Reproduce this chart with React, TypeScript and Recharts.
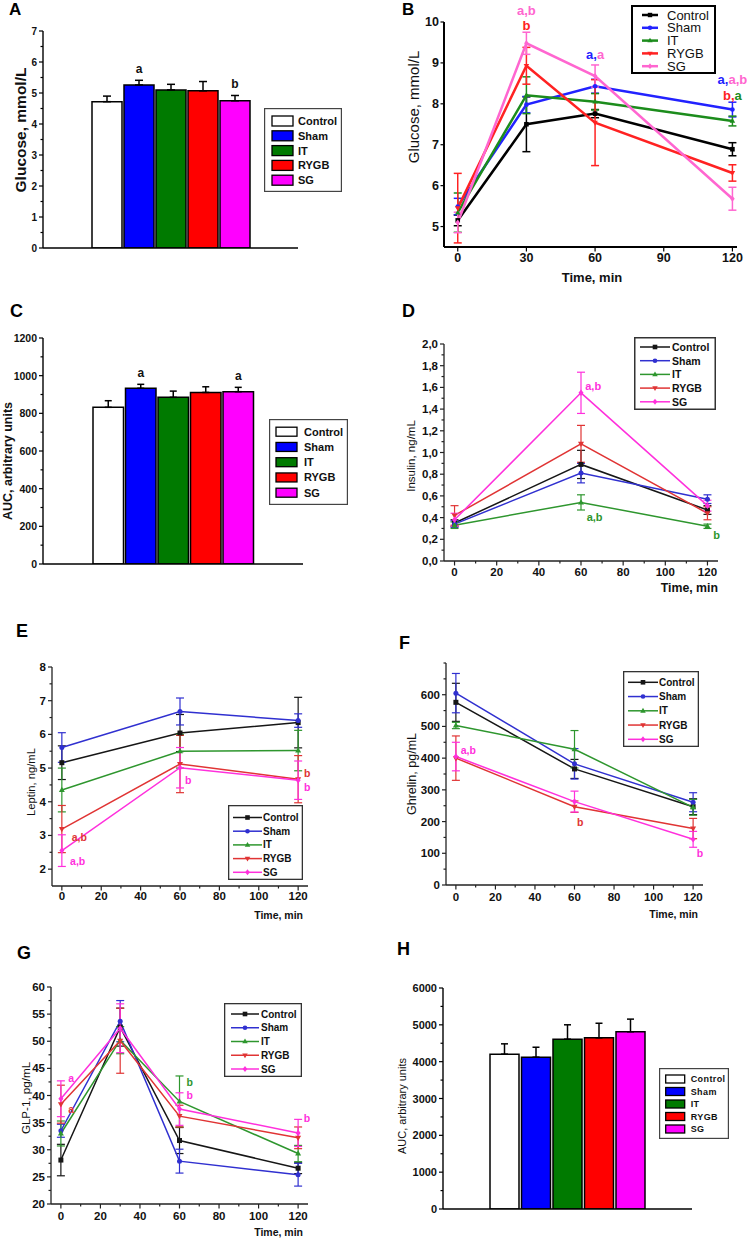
import React from 'react';
import {
  BarChart,
  Bar,
  LineChart,
  Line,
  XAxis,
  YAxis,
  ErrorBar,
  Legend,
  LabelList,
  ReferenceDot,
} from 'recharts';

const FONT = '"Liberation Sans", Arial, Helvetica, sans-serif';

const groups = ['Control', 'Sham', 'IT', 'RYGB', 'SG'];

const barFills = ['#ffffff', '#0000ff', '#007a00', '#ff0000', '#ff00ff'];
const ogttColors = ['#000000', '#2222ff', '#1c8c1c', '#ff2222', '#ff66d0'];
const lineColors = ['#161616', '#3030d0', '#2e962e', '#e03434', '#ff30dc'];
const markerShapes = ['square', 'circle', 'triangle', 'triangleDown', 'diamond'];

// A: fasting glucose, mmol/L
const fastingGlucose = [4.72, 5.26, 5.1, 5.07, 4.75];
const fastingGlucoseSem = [0.18, 0.15, 0.18, 0.3, 0.17];
const fastingGlucoseSig = ['', 'a', '', '', 'b'];
const glucoseTicks = [0, 1, 2, 3, 4, 5, 6, 7];
const glucoseMinorTicks = [0.5, 1.5, 2.5, 3.5, 4.5, 5.5, 6.5];

// B: glucose tolerance curve, mmol/L
const ogttTimes = [0, 30, 60, 120];
const ogttGlucose = [
  [5.15, 7.5, 7.76, 6.89],
  [5.49, 7.98, 8.43, 7.86],
  [5.34, 8.21, 8.05, 7.58],
  [5.45, 8.93, 7.54, 6.31],
  [5.1, 9.48, 8.68, 5.68],
];
const ogttGlucoseSem = [
  [0.13, 0.67, 0.1, 0.16],
  [0.2, 0.2, 0.17, 0.18],
  [0.48, 0.45, 0.2, 0.12],
  [0.85, 0.45, 1.05, 0.2],
  [0.25, 0.27, 0.27, 0.28],
];
const ogttTimeTicks = [0, 30, 60, 90, 120];
const ogttGlucoseTicks = [5, 6, 7, 8, 9, 10];
const ogttNotes = [
  { x: 30, y: 10.3, parts: [['a,b', 4]] },
  { x: 30, y: 9.92, parts: [['b', 3]] },
  { x: 60, y: 9.21, parts: [['a,', 1], ['a', 4]] },
  { x: 120, y: 8.6, parts: [['a,', 1], ['a,b', 4]] },
  { x: 120, y: 8.22, parts: [['b,', 3], ['a', 2]] },
];

// C: glucose AUC
const glucoseAuc = [832, 933, 885, 911, 915];
const glucoseAucSem = [35, 21, 33, 30, 23];
const glucoseAucSig = ['', 'a', '', '', 'a'];
const glucoseAucTicks = [0, 200, 400, 600, 800, 1000, 1200];
const glucoseAucMinorTicks = [100, 300, 500, 700, 900, 1100];

// shared time axis for D-G
const timeTicks = [0, 20, 40, 60, 80, 100, 120];
const timeMinorTicks = [10, 30, 50, 70, 90, 110];

// D: insulin, ng/mL
const hormoneTimes = [0, 60, 120];
const insulin = [
  [0.35, 0.89, 0.47],
  [0.34, 0.81, 0.57],
  [0.33, 0.54, 0.32],
  [0.42, 1.08, 0.44],
  [0.38, 1.55, 0.51],
];
const insulinSem = [
  [0.03, 0.13, 0.04],
  [0.03, 0.09, 0.04],
  [0.03, 0.07, 0.02],
  [0.09, 0.17, 0.06],
  [0.06, 0.19, 0.05],
];
const insulinTicks = [0, 0.2, 0.4, 0.6, 0.8, 1.0, 1.2, 1.4, 1.6, 1.8, 2.0];
const insulinMinorTicks = [0.1, 0.3, 0.5, 0.7, 0.9, 1.1, 1.3, 1.5, 1.7, 1.9];
const insulinNotes = [
  { x: 62, y: 1.61, parts: [['a,b', 4]] },
  { x: 62.7, y: 0.41, parts: [['a,b', 2]] },
  { x: 122.8, y: 0.24, parts: [['b', 2]] },
];

// E: leptin, ng/mL
const leptin = [
  [5.16, 6.04, 6.35],
  [5.61, 6.68, 6.41],
  [4.35, 5.5, 5.52],
  [3.19, 5.12, 4.67],
  [2.55, 5.01, 4.64],
];
const leptinSem = [
  [0.5, 0.55, 0.75],
  [0.44, 0.4, 0.2],
  [0.65, 0.5, 0.6],
  [0.7, 0.85, 0.7],
  [0.47, 0.6, 0.57],
];
const leptinTicks = [2, 3, 4, 5, 6, 7, 8];
const leptinMinorTicks = [2.5, 3.5, 4.5, 5.5, 6.5, 7.5];
const leptinNotes = [
  { x: 5, y: 2.96, parts: [['a,b', 3]] },
  { x: 4.2, y: 2.24, parts: [['a,b', 4]] },
  { x: 62.6, y: 4.66, parts: [['b', 4]] },
  { x: 123, y: 4.84, parts: [['b', 3]] },
  { x: 123, y: 4.43, parts: [['b', 4]] },
];

// F: ghrelin, pg/mL
const ghrelin = [
  [576, 366, 247],
  [605, 382, 261],
  [503, 428, 245],
  [400, 247, 178],
  [405, 263, 144],
];
const ghrelinSem = [
  [60, 30, 25],
  [62, 48, 30],
  [10, 59, 25],
  [70, 18, 32],
  [45, 33, 25],
];
const ghrelinTicks = [0, 100, 200, 300, 400, 500, 600];
const ghrelinMinorTicks = [50, 150, 250, 350, 450, 550, 650, 700];
const ghrelinNotes = [
  { x: 2.4, y: 426, parts: [['a,b', 4]] },
  { x: 61.3, y: 200, parts: [['b', 3]] },
  { x: 121.9, y: 100, parts: [['b', 4]] },
];

// G: GLP-1, pg/mL
const glp1Times = [0, 30, 60, 120];
const glp1 = [
  [28.1, 52.6, 31.7, 26.6],
  [33.5, 53.7, 27.9, 25.4],
  [33.0, 50.2, 38.9, 29.3],
  [38.4, 50.1, 36.2, 32.2],
  [39.4, 52.4, 37.5, 33.1],
];
const glp1Sem = [
  [2.9, 3.5, 2.4, 1.0],
  [1.2, 3.8, 2.2, 2.1],
  [2.3, 2.5, 4.7, 1.5],
  [3.5, 6.0, 2.0, 2.0],
  [3.3, 4.5, 3.0, 2.5],
];
const glp1Ticks = [20, 25, 30, 35, 40, 45, 50, 55, 60];
const glp1MinorTicks = [22.5, 27.5, 32.5, 37.5, 42.5, 47.5, 52.5, 57.5];
const glp1Notes = [
  { x: 3.7, y: 43.2, parts: [['a', 4]] },
  { x: 3.7, y: 37.6, parts: [['a', 3]] },
  { x: 63.6, y: 42.4, parts: [['b', 2]] },
  { x: 63.6, y: 40.1, parts: [['b', 4]] },
  { x: 122.8, y: 35.8, parts: [['b', 4]] },
];

// H: GLP-1 AUC
const glp1Auc = [4204, 4122, 4611, 4647, 4812];
const glp1AucSem = [280, 270, 390, 396, 343];
const glp1AucTicks = [0, 1000, 2000, 3000, 4000, 5000, 6000];
const glp1AucMinorTicks = [500, 1500, 2500, 3500, 4500, 5500];

function Marker({ shape, cx, cy, color, size }: any) {
  const s = size;
  if (shape === 'square') {
    return <rect x={cx - s} y={cy - s} width={2 * s} height={2 * s} fill={color} />;
  }
  if (shape === 'circle') return <circle cx={cx} cy={cy} r={s} fill={color} />;
  if (shape === 'triangle') {
    return (
      <polygon
        points={`${cx},${cy - s * 1.3} ${cx - s * 1.2},${cy + s * 0.8} ${cx + s * 1.2},${cy + s * 0.8}`}
        fill={color}
      />
    );
  }
  if (shape === 'triangleDown') {
    return (
      <polygon
        points={`${cx},${cy + s * 1.3} ${cx - s * 1.2},${cy - s * 0.8} ${cx + s * 1.2},${cy - s * 0.8}`}
        fill={color}
      />
    );
  }
  return (
    <polygon
      points={`${cx},${cy - s * 1.3} ${cx + s},${cy} ${cx},${cy + s * 1.3} ${cx - s},${cy}`}
      fill={color}
    />
  );
}

function LegendSvg({ cfg, kind, colors }: any) {
  const bw = cfg.border;
  return (
    <svg width={cfg.width} height={cfg.height} style={{ display: 'block' }}>
      <rect
        x={bw / 2}
        y={bw / 2}
        width={cfg.width - bw}
        height={cfg.height - bw}
        fill="#fff"
        stroke={cfg.borderColor}
        strokeWidth={bw}
      />
      {groups.map((g, i) => {
        const cy = cfg.padTop + i * cfg.rowH;
        return (
          <g key={g}>
            {kind === 'bar' ? (
              <rect
                x={cfg.swX}
                y={cy - cfg.swH / 2}
                width={cfg.swW}
                height={cfg.swH}
                fill={colors[i]}
                stroke="#000"
                strokeWidth={1.3}
              />
            ) : (
              <g>
                <line
                  x1={cfg.swX}
                  x2={cfg.swX + cfg.swW}
                  y1={cy}
                  y2={cy}
                  stroke={colors[i]}
                  strokeWidth={cfg.lineWidth}
                />
                <Marker
                  shape={markerShapes[i]}
                  cx={cfg.swX + cfg.swW / 2}
                  cy={cy}
                  color={colors[i]}
                  size={cfg.markerSize}
                />
              </g>
            )}
            <text
              x={cfg.textX}
              y={cy}
              dominantBaseline="central"
              fontSize={cfg.fontSize}
              fontWeight={cfg.bold ? 'bold' : 'normal'}
              fontFamily={FONT}
              letterSpacing={cfg.letterSpacing || 0}
              fill="#111"
            >
              {g}
            </text>
          </g>
        );
      })}
    </svg>
  );
}

const axisTitle = (t: any) => () => (
  <text
    transform={t.rotate ? `translate(${t.x},${t.y}) rotate(-90)` : undefined}
    x={t.rotate ? 0 : t.x}
    y={t.rotate ? 0 : t.y}
    textAnchor={t.anchor || 'middle'}
    dominantBaseline="central"
    fontSize={t.size}
    fontWeight={t.bold ? 'bold' : 'normal'}
    fontFamily={FONT}
    fill="#111"
  >
    {t.text}
  </text>
);

const yTick = (o: any) => (props: any) => {
  const { x, y, payload } = props;
  const major = o.majors.includes(payload.value);
  const len = major ? o.len : o.minorLen;
  return (
    <g>
      <line x1={x} x2={x - len} y1={y} y2={y} stroke={o.stroke} strokeWidth={1.2} />
      {major && (
        <text
          x={x - o.len - o.gap}
          y={y}
          textAnchor="end"
          dominantBaseline="central"
          fontSize={o.fontSize}
          fontWeight="bold"
          fontFamily={FONT}
          fill="#111"
        >
          {o.fmt ? o.fmt(payload.value) : payload.value}
        </text>
      )}
    </g>
  );
};

const xTick = (o: any) => (props: any) => {
  const { x, y, payload } = props;
  const major = o.majors.includes(payload.value);
  const len = major ? o.len : o.minorLen;
  return (
    <g>
      <line x1={x} x2={x} y1={y} y2={y + len} stroke={o.stroke} strokeWidth={1.2} />
      {major && (
        <text
          x={x}
          y={y + o.dy}
          textAnchor="middle"
          dominantBaseline="central"
          fontSize={o.fontSize}
          fontWeight="bold"
          fontFamily={FONT}
          fill="#111"
        >
          {payload.value}
        </text>
      )}
    </g>
  );
};

const sigContent = (mean: number, sem: number, fontSize: number) => (p: any) => {
  const vb = p.viewBox || p;
  if (!p.value) return null;
  const errPx = (vb.height * sem) / mean;
  return (
    <text
      x={vb.x + vb.width / 2}
      y={vb.y - errPx - 7}
      textAnchor="middle"
      fontSize={fontSize}
      fontWeight="bold"
      fontFamily={FONT}
      fill="#111"
    >
      {p.value}
    </text>
  );
};

const noteShape = (parts: any[], colors: string[], anchor: string, fontSize: number) => (p: any) => (
  <text
    x={p.cx}
    y={p.cy}
    textAnchor={anchor}
    dominantBaseline="central"
    fontSize={fontSize}
    fontWeight="bold"
    fontFamily={FONT}
  >
    {parts.map(([t, gi]: any, k: number) => (
      <tspan key={k} fill={colors[gi]}>
        {t}
      </tspan>
    ))}
  </text>
);

function BarPanel(p: any) {
  const row: Record<string, any> = { name: '' };
  groups.forEach((g, i) => {
    row[g] = p.means[i];
    row[g + 'Err'] = [0, p.sems[i]];
    row[g + 'Sig'] = p.sigs ? p.sigs[i] : '';
  });
  const ticks = [...p.yMajors, ...p.yMinors].sort((a, b) => a - b);
  const { box, legend } = p;
  return (
    <div style={{ position: 'absolute', left: box.left, top: box.top }}>
      <BarChart
        width={box.width}
        height={box.height}
        data={[row]}
        margin={{ top: box.mTop, right: box.mRight, left: 0, bottom: 0 }}
        barGap={p.barGap}
      >
        <XAxis
          dataKey="name"
          tick={false}
          tickLine={false}
          height={box.xh}
          axisLine={{ stroke: '#000', strokeWidth: 1.4 }}
        />
        <YAxis
          type="number"
          domain={p.domain}
          allowDataOverflow
          ticks={ticks}
          interval={0}
          width={box.yw}
          tickSize={0}
          tickMargin={0}
          tickLine={false}
          axisLine={{ stroke: '#000', strokeWidth: 1.4 }}
          tick={yTick({
            majors: p.yMajors,
            len: 4,
            minorLen: 2.5,
            gap: 2,
            fontSize: p.tickFont,
            stroke: '#000',
          })}
          label={{ content: axisTitle(p.yTitle) }}
        />
        {groups.map((g, i) => (
          <Bar
            key={g}
            dataKey={g}
            fill={barFills[i]}
            stroke="#000"
            strokeWidth={1.5}
            barSize={p.barSize}
            isAnimationActive={false}
          >
            <ErrorBar dataKey={g + 'Err'} direction="y" width={p.capWidth} stroke="#000" strokeWidth={1.5} />
            <LabelList dataKey={g + 'Sig'} content={sigContent(p.means[i], p.sems[i], 12)} />
          </Bar>
        ))}
        <Legend
          verticalAlign="middle"
          wrapperStyle={{ left: legend.left, top: legend.top, width: legend.width, height: legend.height }}
          content={() => <LegendSvg cfg={legend} kind="bar" colors={barFills} />}
        />
      </BarChart>
    </div>
  );
}

function LinePanel(p: any) {
  const rows = p.times.map((t: number, i: number) => {
    const row: Record<string, number> = { t };
    groups.forEach((g, gi) => {
      row[g] = p.means[gi][i];
      row[g + 'Err'] = p.sems[gi][i];
    });
    return row;
  });
  const xTicks = [...p.xMajors, ...p.xMinors].sort((a, b) => a - b);
  const yTicks = [...p.yMajors, ...p.yMinors].sort((a, b) => a - b);
  const { box, legend } = p;
  return (
    <div style={{ position: 'absolute', left: box.left, top: box.top }}>
      <LineChart
        width={box.width}
        height={box.height}
        data={rows}
        margin={{ top: box.mTop, right: box.mRight, left: 0, bottom: 0 }}
      >
        <XAxis
          type="number"
          dataKey="t"
          domain={p.xDomain}
          allowDataOverflow
          ticks={xTicks}
          interval={0}
          height={box.xh}
          tickSize={0}
          tickMargin={0}
          tickLine={false}
          axisLine={{ stroke: p.axisColor, strokeWidth: p.axisWidth }}
          tick={xTick({
            majors: p.xMajors,
            len: 4.5,
            minorLen: 2.5,
            dy: p.xTickDy,
            fontSize: p.tickFont,
            stroke: p.axisColor,
          })}
          label={{ content: axisTitle(p.xTitle) }}
        />
        <YAxis
          type="number"
          domain={p.yDomain}
          allowDataOverflow
          ticks={yTicks}
          interval={0}
          width={box.yw}
          tickSize={0}
          tickMargin={0}
          tickLine={false}
          axisLine={{ stroke: p.axisColor, strokeWidth: p.axisWidth }}
          tick={yTick({
            majors: p.yMajors,
            len: p.yTickLen,
            minorLen: 2.5,
            gap: p.yTickGap,
            fontSize: p.tickFont,
            stroke: p.axisColor,
            fmt: p.yFmt,
          })}
          label={{ content: axisTitle(p.yTitle) }}
        />
        {groups.map((g, gi) => (
          <Line
            key={g}
            type="linear"
            dataKey={g}
            stroke={p.colors[gi]}
            strokeWidth={p.lineWidth}
            isAnimationActive={false}
            activeDot={false}
            dot={(d: any) => (
              <Marker
                key={`${g}-${d.index}`}
                shape={markerShapes[gi]}
                cx={d.cx}
                cy={d.cy}
                color={p.colors[gi]}
                size={p.markerSize}
              />
            )}
          >
            <ErrorBar
              dataKey={g + 'Err'}
              direction="y"
              width={p.capWidth}
              stroke={p.colors[gi]}
              strokeWidth={p.errWidth}
            />
          </Line>
        ))}
        {p.notes.map((n: any, k: number) => (
          <ReferenceDot
            key={k}
            x={n.x}
            y={n.y}
            r={0}
            ifOverflow="visible"
            shape={noteShape(n.parts, p.colors, p.noteAnchor, p.noteFont)}
          />
        ))}
        <Legend
          verticalAlign="middle"
          wrapperStyle={{ left: legend.left, top: legend.top, width: legend.width, height: legend.height }}
          content={() => <LegendSvg cfg={legend} kind="line" colors={p.colors} />}
        />
      </LineChart>
    </div>
  );
}

function PanelLetter({ text, left, top, size }: any) {
  return (
    <div
      style={{
        position: 'absolute',
        left,
        top,
        fontFamily: FONT,
        fontWeight: 'bold',
        fontSize: size,
        lineHeight: 1,
        color: '#000',
      }}
    >
      {text}
    </div>
  );
}

const hormoneCommon = {
  xDomain: [-5, 125],
  xMajors: timeTicks,
  xMinors: timeMinorTicks,
  colors: lineColors,
  lineWidth: 1.5,
  markerSize: 2.5,
  capWidth: 4,
  errWidth: 1.2,
  axisColor: '#222',
  axisWidth: 1.3,
  tickFont: 11.5,
  yTickLen: 4,
  yTickGap: 2,
  noteAnchor: 'start',
  noteFont: 10.5,
};

const lineLegend = { bold: true, border: 1.3, borderColor: '#333', lineWidth: 1.5, markerSize: 2.3 };

export default function App() {
  return (
    <div
      style={{
        position: 'absolute',
        left: 0,
        top: 0,
        width: 749,
        height: 1241,
        overflow: 'hidden',
        background: '#fff',
        fontFamily: FONT,
      }}
    >
      <BarPanel
        box={{ left: 0, top: 0, width: 350, height: 265, mTop: 31, mRight: 52, yw: 43, xh: 17 }}
        means={fastingGlucose}
        sems={fastingGlucoseSem}
        sigs={fastingGlucoseSig}
        domain={[0, 7]}
        yMajors={glucoseTicks}
        yMinors={glucoseMinorTicks}
        tickFont={10}
        barSize={30}
        barGap={2}
        capWidth={4}
        yTitle={{ text: 'Glucose, mmol/L', x: 20, y: 130, size: 15.5, bold: true, rotate: true }}
        legend={{
          left: 264, top: 108, width: 78, height: 84, padTop: 13, rowH: 14.8,
          swX: 8, swW: 21, swH: 10, textX: 34, fontSize: 11, bold: true, border: 1.2, borderColor: '#444',
        }}
      />
      <LinePanel
        box={{ left: 375, top: 0, width: 374, height: 290, mTop: 22, mRight: 12, yw: 69, xh: 43 }}
        times={ogttTimes}
        means={ogttGlucose}
        sems={ogttGlucoseSem}
        xDomain={[-6, 122]}
        xMajors={ogttTimeTicks}
        xMinors={[]}
        yDomain={[4.5, 10]}
        yMajors={ogttGlucoseTicks}
        yMinors={[]}
        colors={ogttColors}
        lineWidth={2.5}
        markerSize={2.3}
        capWidth={4}
        errWidth={1.5}
        axisColor="#000"
        axisWidth={2}
        tickFont={12.5}
        xTickDy={10.5}
        yTickLen={3.5}
        yTickGap={1.5}
        notes={ogttNotes}
        noteAnchor="middle"
        noteFont={13}
        yTitle={{ text: 'Glucose, mmol/L', x: 38, y: 107, size: 15, bold: false, rotate: true }}
        xTitle={{ text: 'Time, min', x: 217, y: 277, size: 13, bold: true }}
        legend={{
          left: 256, top: 5, width: 85, height: 69, padTop: 10, rowH: 12.8,
          swX: 11, swW: 16, textX: 36, fontSize: 13, bold: false, border: 2, borderColor: '#000',
          lineWidth: 2.5, markerSize: 2.2,
        }}
      />
      <BarPanel
        box={{ left: 0, top: 290, width: 360, height: 290, mTop: 48, mRight: 57, yw: 43, xh: 16 }}
        means={glucoseAuc}
        sems={glucoseAucSem}
        sigs={glucoseAucSig}
        domain={[0, 1200]}
        yMajors={glucoseAucTicks}
        yMinors={glucoseAucMinorTicks}
        tickFont={10.5}
        barSize={30.5}
        barGap={2}
        capWidth={3.5}
        yTitle={{ text: 'AUC, arbitrary units', x: 8, y: 171, size: 12.5, bold: true, rotate: true }}
        legend={{
          left: 269, top: 129, width: 79, height: 86, padTop: 12.7, rowH: 15.25,
          swX: 7, swW: 21, swH: 9, textX: 35, fontSize: 11, bold: true, border: 1.2, borderColor: '#444',
        }}
      />
      <LinePanel
        {...hormoneCommon}
        box={{ left: 375, top: 290, width: 374, height: 305, mTop: 54, mRight: 31, yw: 69, xh: 34 }}
        times={hormoneTimes}
        means={insulin}
        sems={insulinSem}
        yDomain={[0, 2]}
        yMajors={insulinTicks}
        yMinors={insulinMinorTicks}
        yFmt={(v: number) => v.toFixed(1).replace('.', ',')}
        xTickDy={11}
        notes={insulinNotes}
        noteFont={11}
        yTitle={{ text: 'Insulin, ng/mL', x: 36, y: 166, size: 11.5, bold: false, rotate: true }}
        xTitle={{ text: 'Time, min', x: 343, y: 298, size: 12.3, bold: true, anchor: 'end' }}
        legend={{
          ...lineLegend, left: 259, top: 47, width: 82, height: 73, padTop: 10, rowH: 13.7,
          swX: 6, swW: 30, textX: 38, fontSize: 10.5, border: 1.5,
        }}
      />
      <LinePanel
        {...hormoneCommon}
        box={{ left: 0, top: 620, width: 330, height: 305, mTop: 47, mRight: 22, yw: 52, xh: 39 }}
        times={hormoneTimes}
        means={leptin}
        sems={leptinSem}
        yDomain={[1.5, 8]}
        yMajors={leptinTicks}
        yMinors={leptinMinorTicks}
        xTickDy={10}
        notes={leptinNotes}
        yTitle={{ text: 'Leptin, ng/mL', x: 31, y: 162, size: 11.2, bold: false, rotate: true }}
        xTitle={{ text: 'Time, min', x: 303, y: 295, size: 10.5, bold: true, anchor: 'end' }}
        legend={{
          ...lineLegend, left: 228, top: 185, width: 75, height: 75, padTop: 12.5, rowH: 13.7,
          swX: 5, swW: 29, textX: 35, fontSize: 10,
        }}
      />
      <LinePanel
        {...hormoneCommon}
        box={{ left: 375, top: 625, width: 374, height: 300, mTop: 38, mRight: 46, yw: 71, xh: 40 }}
        times={hormoneTimes}
        means={ghrelin}
        sems={ghrelinSem}
        yDomain={[0, 700]}
        yMajors={ghrelinTicks}
        yMinors={ghrelinMinorTicks}
        xTickDy={12}
        notes={ghrelinNotes}
        yTitle={{ text: 'Ghrelin, pg/mL', x: 37, y: 149, size: 12.5, bold: false, rotate: true }}
        xTitle={{ text: 'Time, min', x: 323, y: 289, size: 10.5, bold: true, anchor: 'end' }}
        legend={{
          ...lineLegend, left: 248, top: 46, width: 76, height: 76, padTop: 11.3, rowH: 14.25,
          swX: 5, swW: 30, textX: 36, fontSize: 10,
        }}
      />
      <LinePanel
        {...hormoneCommon}
        box={{ left: 0, top: 940, width: 330, height: 301, mTop: 47, mRight: 22, yw: 51, xh: 37 }}
        times={glp1Times}
        means={glp1}
        sems={glp1Sem}
        yDomain={[20, 60]}
        yMajors={glp1Ticks}
        yMinors={glp1MinorTicks}
        xTickDy={12}
        notes={glp1Notes}
        yTitle={{ text: 'GLP-1, pg/mL', x: 25, y: 158, size: 11.6, bold: false, rotate: true }}
        xTitle={{ text: 'Time, min', x: 303, y: 292, size: 10.5, bold: true, anchor: 'end' }}
        legend={{
          ...lineLegend, left: 224, top: 63, width: 78, height: 74, padTop: 11, rowH: 13.75,
          swX: 7, swW: 28, textX: 37, fontSize: 10,
        }}
      />
      <BarPanel
        box={{ left: 375, top: 940, width: 374, height: 285, mTop: 48, mRight: 57, yw: 68, xh: 16 }}
        means={glp1Auc}
        sems={glp1AucSem}
        domain={[0, 6000]}
        yMajors={glp1AucTicks}
        yMinors={glp1AucMinorTicks}
        tickFont={11}
        barSize={29}
        barGap={2.5}
        capWidth={3.5}
        yTitle={{ text: 'AUC, arbitrary units', x: 27, y: 166, size: 11, bold: false, rotate: true }}
        legend={{
          left: 284, top: 128, width: 70, height: 71, padTop: 11, rowH: 12.5,
          swX: 6.7, swW: 19, swH: 8, textX: 31.7, fontSize: 9, bold: true, letterSpacing: 0.4,
          border: 1.2, borderColor: '#444',
        }}
      />
      <PanelLetter text="A" left={9} top={1} size={17} />
      <PanelLetter text="B" left={402} top={1} size={17} />
      <PanelLetter text="C" left={10} top={302} size={18} />
      <PanelLetter text="D" left={402} top={302} size={18} />
      <PanelLetter text="E" left={16} top={622} size={18} />
      <PanelLetter text="F" left={399} top={634} size={18} />
      <PanelLetter text="G" left={17} top={944} size={18} />
      <PanelLetter text="H" left={397} top={940} size={18} />
    </div>
  );
}
